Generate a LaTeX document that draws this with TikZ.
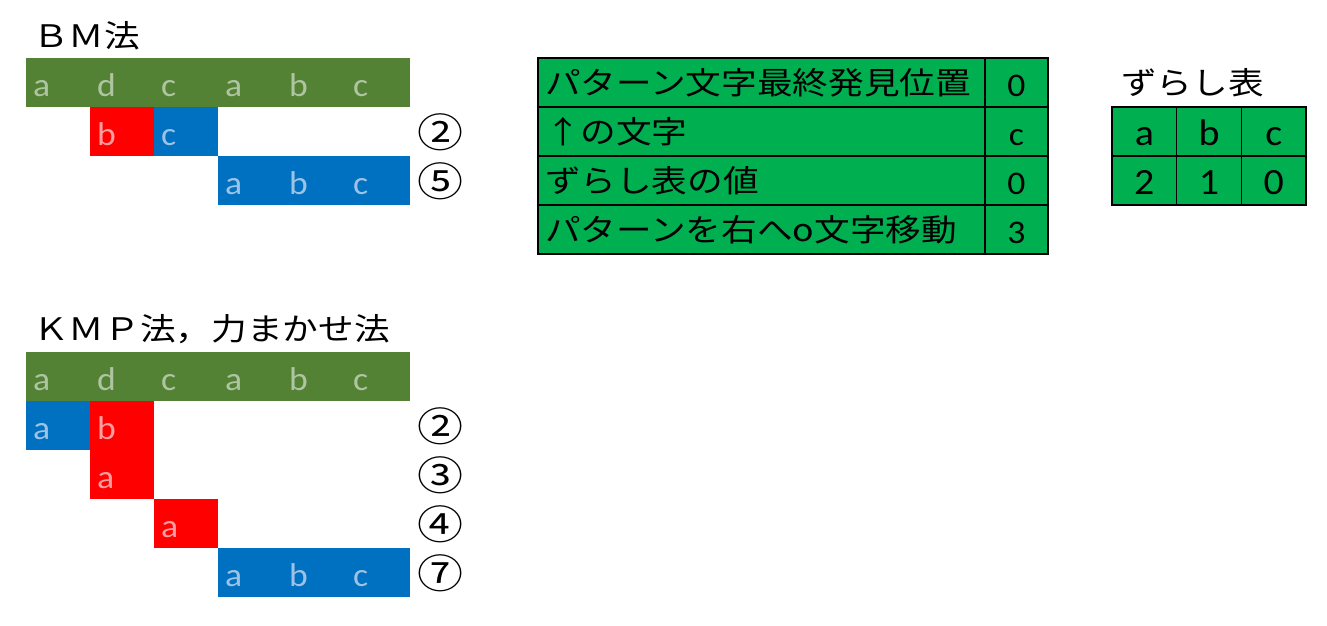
\documentclass[tikz,border=0pt]{standalone}
\usepackage{fontspec}
\newfontfamily\jpfont[FakeStretch=1.15]{Noto Sans CJK JP}
\newfontfamily\latfont[FakeStretch=1.08]{Carlito}
\definecolor{textgreen}{HTML}{548235}
\definecolor{ongreen}{HTML}{AFC5A2}
\definecolor{cellblue}{HTML}{0070C0}
\definecolor{onblue}{HTML}{9CC3E5}
\definecolor{cellred}{HTML}{FF0000}
\definecolor{onred}{HTML}{FF9E9E}
\definecolor{tablegreen}{HTML}{00B050}

\begin{document}
\begin{tikzpicture}[x=1pt, y=-1pt,
    cell/.style ={anchor=north west, minimum width=64pt, minimum height=49pt,
      inner xsep=7pt, inner ysep=0pt, outer sep=0pt, text width=50pt, align=left,
      text height=27pt, text depth=0pt, font=\latfont\fontsize{33}{33}\selectfont},
    textcell/.style ={cell, fill=textgreen, text=ongreen},
    hitcell/.style ={cell, fill=cellblue, text=onblue},
    misscell/.style ={cell, fill=cellred, text=onred},
    headline/.style ={anchor=west, inner sep=0pt, font=\jpfont\fontsize{31}{31}\selectfont},
    stepno/.style ={inner sep=0pt, font=\jpfont\fontsize{40}{40}\selectfont},
    infobox/.style ={draw=black, line width=1.5pt, fill=tablegreen, anchor=north west,
      minimum height=49pt, inner ysep=0pt, outer sep=0pt},
    infoname/.style ={infobox, text width=433pt, inner xsep=7pt, align=left,
      font=\jpfont\fontsize{31}{31}\selectfont},
    infovalue/.style ={infobox, text width=49pt, inner xsep=7pt, align=center,
      text height=27pt, text depth=0pt, font=\latfont\fontsize{33}{33}\selectfont},
    shiftbox/.style ={infobox, minimum width=64.7pt, inner xsep=0pt,
      text height=28pt, text depth=0pt, font=\latfont\fontsize{37}{37}\selectfont}]
   \useasboundingbox (0,0) rectangle (1327,625);

   % BM
   \node[headline] (bmtitle) at (33,36) {ＢＭ法};
   \foreach \ch [count=\i from 0] in {a,d,c,a,b,c}
     \node[textcell] (bmt\i) at (26+64*\i,58) {\ch};
   \node[misscell] (bma1) at (90,107) {b};
   \node[hitcell] (bma2) at (154,107) {c};
   \foreach \ch [count=\i from 3] in {a,b,c}
     \node[hitcell] (bmb\i) at (26+64*\i,156) {\ch};
   \node[stepno] (bmno1) at (440,132) {②};
   \node[stepno] (bmno2) at (440,181) {⑤};

   % KMP
   \node[headline] (kmptitle) at (33,329) {ＫＭＰ法，力まかせ法};
   \foreach \ch [count=\i from 0] in {a,d,c,a,b,c}
     \node[textcell] (kmpt\i) at (26+64*\i,352) {\ch};
   \node[hitcell] (kmpa0) at (26,401) {a};
   \node[misscell] (kmpa1) at (90,401) {b};
   \node[misscell] (kmpb1) at (90,450) {a};
   \node[misscell] (kmpc2) at (154,499) {a};
   \foreach \ch [count=\i from 3] in {a,b,c}
     \node[hitcell] (kmpd\i) at (26+64*\i,548) {\ch};
   \node[stepno] (kmpno1) at (440,426) {②};
   \node[stepno] (kmpno2) at (440,475) {③};
   \node[stepno] (kmpno3) at (440,524) {④};
   \node[stepno] (kmpno4) at (440,573) {⑦};

   % state table
   \foreach \txt/\val [count=\i from 0] in
     {パターン文字最終発見位置/0, ↑の文字/c, ずらし表の値/0, パターンを右へo文字移動/3}
   {
     \node[infoname] (name\i) at (538,58+49*\i) {\txt};
     \node[infovalue] (value\i) at (985,58+49*\i) {\val};
   }

   % shift table
   \node[headline] (shifttitle) at (1121,83) {ずらし表};
   \foreach \ch/\val [count=\i from 0] in {a/2, b/1, c/0}
   {
     \node[shiftbox] (shiftkey\i) at (1112+64.7*\i,107) {\ch};
     \node[shiftbox] (shiftval\i) at (1112+64.7*\i,156) {\val};
   }
 \end{tikzpicture}
\end{document}
